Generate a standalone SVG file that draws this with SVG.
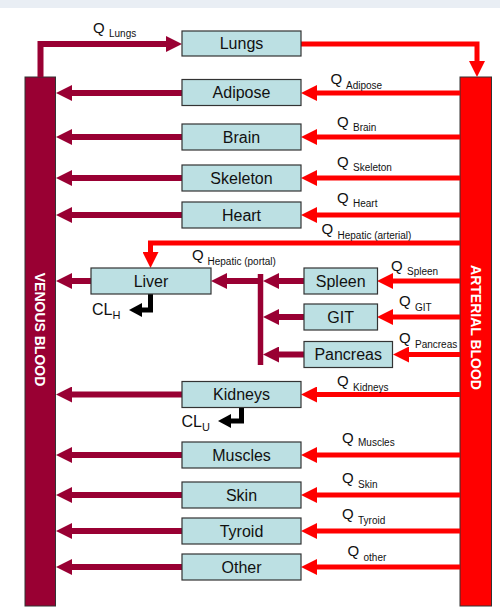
<svg xmlns="http://www.w3.org/2000/svg" width="500" height="614" viewBox="0 0 500 614">
<style>
.box{fill:#BCE0E3;stroke:#333;stroke-width:1.2}
.lbl{font-family:"Liberation Sans",Arial,sans-serif;font-size:16px;fill:#111;text-anchor:middle}
.q{font-family:"Liberation Sans",Arial,sans-serif;font-size:15px;fill:#111}
.sub{font-size:10px}
.ven{fill:none;stroke:#990033;stroke-width:6;marker-end:url(#hv)}
.art{fill:none;stroke:#FF0000;stroke-width:5;marker-end:url(#ha)}
.cl{fill:none;stroke:#000;stroke-width:5;marker-end:url(#hc)}
.bar{font-family:"Liberation Sans",Arial,sans-serif;font-size:14px;font-weight:bold;fill:#fff;text-anchor:middle}
.clt{font-family:"Liberation Sans",Arial,sans-serif;font-size:16px;fill:#111}
</style>
<defs>
<marker id="hv" markerUnits="userSpaceOnUse" markerWidth="16" markerHeight="16" viewBox="0 0 16 16" refX="2" refY="8" orient="auto"><path d="M0,0 L16,8 L0,16 z" fill="#990033"/></marker>
<marker id="ha" markerUnits="userSpaceOnUse" markerWidth="16" markerHeight="16" viewBox="0 0 16 16" refX="2" refY="8" orient="auto"><path d="M0,0 L16,8 L0,16 z" fill="#FF0000"/></marker>
<marker id="hc" markerUnits="userSpaceOnUse" markerWidth="13" markerHeight="14" viewBox="0 0 13 14" refX="2" refY="7" orient="auto"><path d="M0,0 L13,7 L0,14 z" fill="#000"/></marker>
</defs>
<rect width="500" height="614" fill="#fff"/>
<rect width="500" height="8" fill="#e9eef4"/>

<g id="venous">
<rect x="25" y="77" width="30.5" height="529" fill="#990033" stroke="#333" stroke-width="1"/>
<text class="bar" transform="translate(35,329.5) rotate(90)">VENOUS BLOOD</text>
</g>
<g id="arterial">
<rect x="460" y="77" width="31.5" height="529" fill="#FF0000" stroke="#333" stroke-width="1"/>
<text class="bar" transform="translate(471,327.5) rotate(90)">ARTERIAL BLOOD</text>
</g>

<g id="connectors">
<polyline class="ven" points="40.5,77 40.5,44 168,44"/>
<polyline class="art" points="301,44 477,44 477,63"/>
<line class="ven" x1="182" y1="93" x2="70" y2="93"/>
<line class="ven" x1="182" y1="137" x2="70" y2="137"/>
<line class="ven" x1="182" y1="178" x2="70" y2="178"/>
<line class="ven" x1="182" y1="215" x2="70" y2="215"/>
<line class="ven" x1="91" y1="281" x2="70" y2="281"/>
<line class="ven" x1="182" y1="394.5" x2="70" y2="394.5"/>
<line class="ven" x1="182" y1="455" x2="70" y2="455"/>
<line class="ven" x1="182" y1="495" x2="70" y2="495"/>
<line class="ven" x1="182" y1="531" x2="70" y2="531"/>
<line class="ven" x1="182" y1="567" x2="70" y2="567"/>
<line x1="260.5" y1="274" x2="260.5" y2="365" stroke="#990033" stroke-width="5.5"/>
<line class="ven" x1="258" y1="281" x2="225" y2="281"/>
<line class="ven" x1="304" y1="281" x2="277" y2="281"/>
<line class="ven" x1="304" y1="317" x2="277" y2="317"/>
<line class="ven" x1="304" y1="354.5" x2="277" y2="354.5"/>
<line class="art" x1="460" y1="93" x2="315" y2="93"/>
<line class="art" x1="460" y1="137" x2="315" y2="137"/>
<line class="art" x1="460" y1="178" x2="315" y2="178"/>
<line class="art" x1="460" y1="215" x2="315" y2="215"/>
<polyline class="art" points="460,243 150.5,243 150.5,254"/>
<line class="art" x1="460" y1="281" x2="391" y2="281"/>
<line class="art" x1="460" y1="317" x2="391" y2="317"/>
<line class="art" x1="460" y1="354.5" x2="407" y2="354.5"/>
<line class="art" x1="460" y1="394.5" x2="315" y2="394.5"/>
<line class="art" x1="460" y1="455" x2="315" y2="455"/>
<line class="art" x1="460" y1="495" x2="315" y2="495"/>
<line class="art" x1="460" y1="531" x2="315" y2="531"/>
<line class="art" x1="460" y1="567" x2="315" y2="567"/>
<polyline class="cl" points="150.5,294 150.5,310 140,310"/>
<polyline class="cl" points="241.5,407 241.5,421 229,421"/>
</g>

<g id="lungs"><rect class="box" x="182" y="31" width="119" height="25"/><text class="lbl" x="241.5" y="49">Lungs</text></g>
<g id="adipose"><rect class="box" x="182" y="79.5" width="119" height="26"/><text class="lbl" x="241.5" y="98">Adipose</text></g>
<g id="brain"><rect class="box" x="182" y="124" width="119" height="26"/><text class="lbl" x="241.5" y="142.5">Brain</text></g>
<g id="skeleton"><rect class="box" x="182" y="165" width="119" height="26"/><text class="lbl" x="241.5" y="183.5">Skeleton</text></g>
<g id="heart"><rect class="box" x="182" y="202" width="119" height="26"/><text class="lbl" x="241.5" y="220.5">Heart</text></g>
<g id="liver"><rect class="box" x="91" y="268" width="120" height="26"/><text class="lbl" x="151" y="286.5">Liver</text></g>
<g id="spleen"><rect class="box" x="304" y="268" width="73.5" height="26"/><text class="lbl" x="340.7" y="286.5">Spleen</text></g>
<g id="git"><rect class="box" x="304" y="304" width="73.5" height="26"/><text class="lbl" x="340.7" y="322.5">GIT</text></g>
<g id="pancreas"><rect class="box" x="304" y="341.5" width="88.5" height="26"/><text class="lbl" x="348.2" y="360">Pancreas</text></g>
<g id="kidneys"><rect class="box" x="182" y="381.5" width="119" height="26"/><text class="lbl" x="241.5" y="400">Kidneys</text></g>
<g id="muscles"><rect class="box" x="182" y="442" width="119" height="26"/><text class="lbl" x="241.5" y="460.5">Muscles</text></g>
<g id="skin"><rect class="box" x="182" y="482" width="119" height="26"/><text class="lbl" x="241.5" y="500.5">Skin</text></g>
<g id="tyroid"><rect class="box" x="182" y="518" width="119" height="26"/><text class="lbl" x="241.5" y="536.5">Tyroid</text></g>
<g id="other"><rect class="box" x="182" y="554" width="119" height="26"/><text class="lbl" x="241.5" y="572.5">Other</text></g>

<g id="labels">
<text class="q" x="93" y="33">Q <tspan class="sub" x="109" y="37">Lungs</tspan></text>
<text class="q" x="330.5" y="83.5">Q <tspan class="sub" x="346" y="88.5">Adipose</tspan></text>
<text class="q" x="337" y="127">Q <tspan class="sub" x="353" y="130.5">Brain</tspan></text>
<text class="q" x="337" y="167">Q <tspan class="sub" x="353" y="171">Skeleton</tspan></text>
<text class="q" x="337" y="203">Q <tspan class="sub" x="353" y="206.5">Heart</tspan></text>
<text class="q" x="321.5" y="234">Q <tspan class="sub" x="337.5" y="238.5">Hepatic (arterial)</tspan></text>
<text class="q" x="192" y="259.5">Q <tspan class="sub" x="207.5" y="265">Hepatic (portal)</tspan></text>
<text class="q" x="391" y="270.5">Q <tspan class="sub" x="407" y="275">Spleen</tspan></text>
<text class="q" x="399" y="305.5">Q <tspan class="sub" x="415" y="311">GIT</tspan></text>
<text class="q" x="399" y="342.5">Q <tspan class="sub" x="415" y="348">Pancreas</tspan></text>
<text class="q" x="337" y="386">Q <tspan class="sub" x="353" y="390.5">Kidneys</tspan></text>
<text class="q" x="342" y="442.5">Q <tspan class="sub" x="358" y="446">Muscles</tspan></text>
<text class="q" x="342" y="482.5">Q <tspan class="sub" x="358" y="488">Skin</tspan></text>
<text class="q" x="342" y="519">Q <tspan class="sub" x="358" y="524">Tyroid</tspan></text>
<text class="q" x="347.5" y="555.5">Q <tspan class="sub" x="363.5" y="561">other</tspan></text>
<text class="clt" x="92" y="315">CL<tspan font-size="11" dy="4">H</tspan></text>
<text class="clt" x="181.5" y="427">CL<tspan font-size="11" dy="4">U</tspan></text>
</g>
</svg>
